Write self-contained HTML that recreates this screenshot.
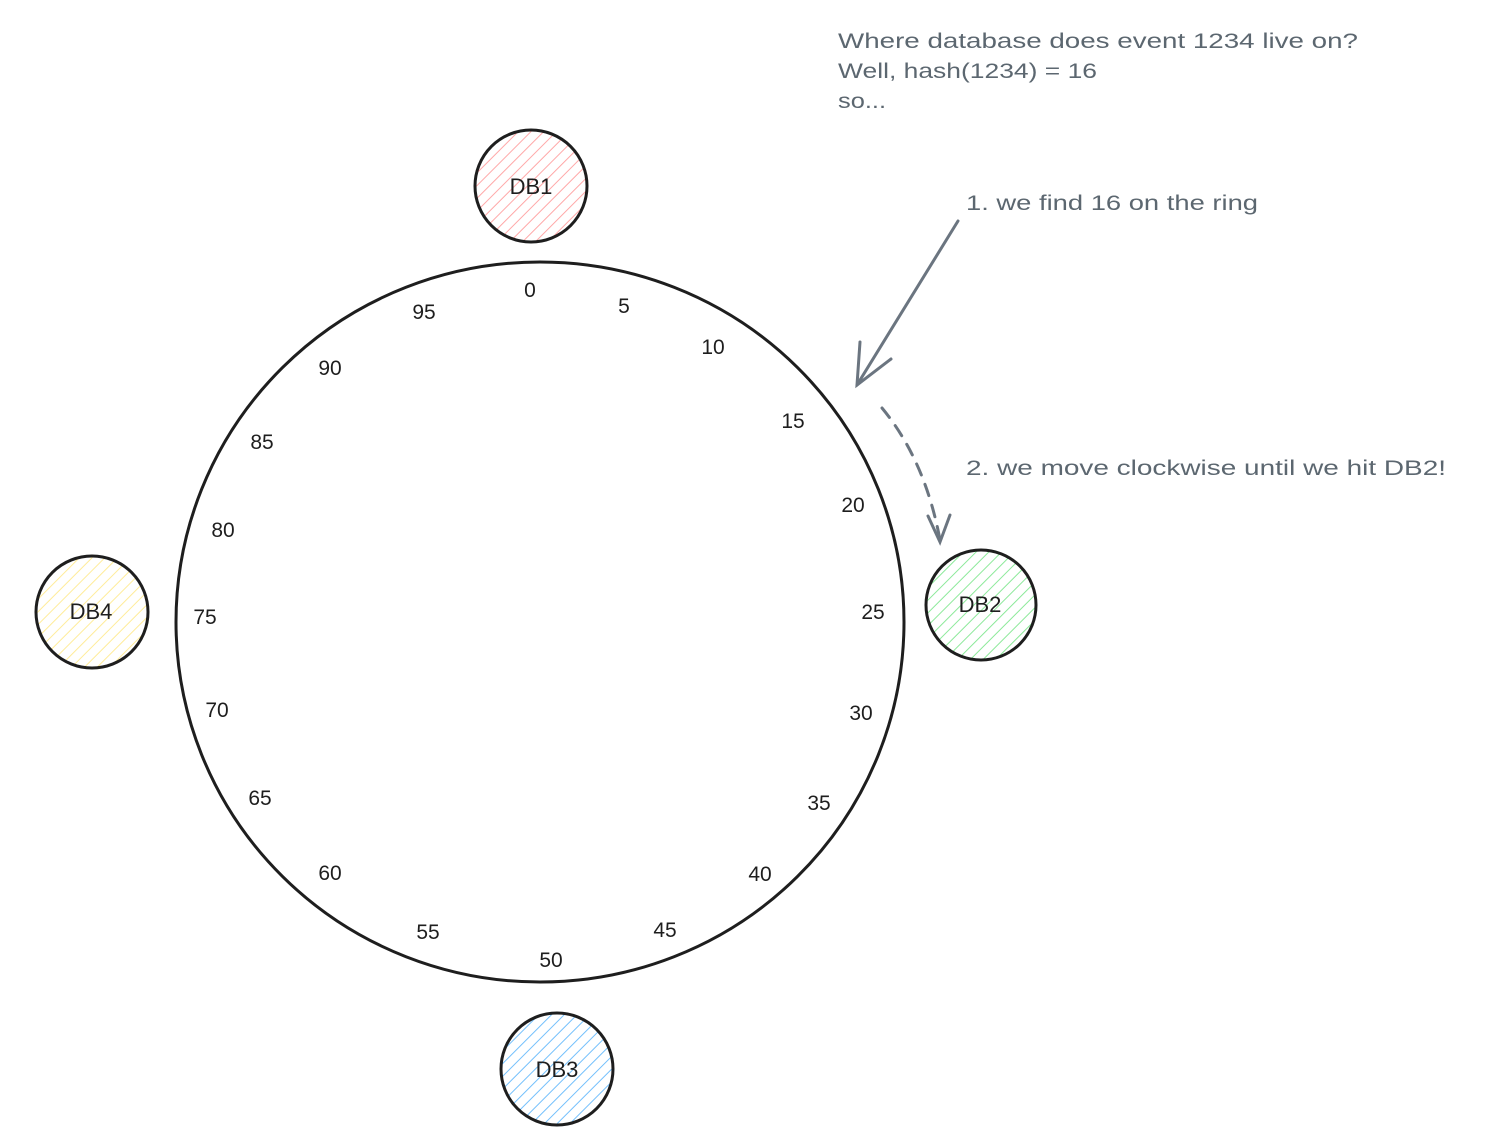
<!DOCTYPE html>
<html><head><meta charset="utf-8"><style>
html,body{margin:0;padding:0;background:#fff;}
svg{display:block;}
text{font-family:"Liberation Sans",sans-serif;}
</style></head><body>
<svg width="1494" height="1147" viewBox="0 0 1494 1147" xmlns="http://www.w3.org/2000/svg">
<defs>
<pattern id="hr" patternUnits="userSpaceOnUse" width="9" height="9" patternTransform="rotate(45)"><line x1="0" y1="0" x2="0" y2="9" stroke="#ffa8a8" stroke-width="2"/></pattern>
<pattern id="hg" patternUnits="userSpaceOnUse" width="9" height="9" patternTransform="rotate(45)"><line x1="0" y1="0" x2="0" y2="9" stroke="#8ce99a" stroke-width="2"/></pattern>
<pattern id="hb" patternUnits="userSpaceOnUse" width="9" height="9" patternTransform="rotate(45)"><line x1="0" y1="0" x2="0" y2="9" stroke="#74c0fc" stroke-width="2"/></pattern>
<pattern id="hy" patternUnits="userSpaceOnUse" width="9" height="9" patternTransform="rotate(45)"><line x1="0" y1="0" x2="0" y2="9" stroke="#ffec99" stroke-width="2"/></pattern>
</defs>
<ellipse cx="540" cy="622" rx="364" ry="360" fill="none" stroke="#1e1e1e" stroke-width="3"/>
<circle cx="531" cy="186" r="56" fill="url(#hr)" stroke="#1e1e1e" stroke-width="3"/>
<circle cx="981" cy="605" r="55" fill="url(#hg)" stroke="#1e1e1e" stroke-width="3"/>
<circle cx="557" cy="1069" r="56" fill="url(#hb)" stroke="#1e1e1e" stroke-width="3"/>
<circle cx="92" cy="612" r="56" fill="url(#hy)" stroke="#1e1e1e" stroke-width="3"/>
<g font-size="22" fill="#1e1e1e" text-anchor="middle">
<text x="531" y="194">DB1</text>
<text x="980" y="612">DB2</text>
<text x="557" y="1077">DB3</text>
<text x="91" y="619">DB4</text>
</g>
<g font-size="21" fill="#1e1e1e" text-anchor="middle">
<text x="530" y="297">0</text><text x="624" y="313">5</text><text x="713" y="354">10</text>
<text x="793" y="428">15</text><text x="853" y="512">20</text><text x="873" y="619">25</text>
<text x="861" y="720">30</text><text x="819" y="810">35</text><text x="760" y="881">40</text>
<text x="665" y="937">45</text><text x="551" y="967">50</text><text x="428" y="939">55</text>
<text x="330" y="880">60</text><text x="260" y="805">65</text><text x="217" y="717">70</text>
<text x="205" y="624">75</text><text x="223" y="537">80</text><text x="262" y="449">85</text>
<text x="330" y="375">90</text><text x="424" y="319">95</text>
</g>
<g font-size="21" fill="#5c6770">
<text x="838" y="48" textLength="520" lengthAdjust="spacingAndGlyphs">Where database does event 1234 live on?</text>
<text x="838" y="78" textLength="259" lengthAdjust="spacingAndGlyphs">Well, hash(1234) = 16</text>
<text x="838" y="108" textLength="48" lengthAdjust="spacingAndGlyphs">so...</text>
<text x="966" y="210" textLength="292" lengthAdjust="spacingAndGlyphs">1. we find 16 on the ring</text>
<text x="966" y="475" textLength="480" lengthAdjust="spacingAndGlyphs">2. we move clockwise until we hit DB2!</text>
</g>
<g stroke="#6b7580" stroke-width="3" fill="none" stroke-linecap="round">
<line x1="958" y1="221" x2="857" y2="385"/>
<polyline points="860,342 857,385 891,359"/>
<path d="M882 408 Q925 460 940 540" stroke-dasharray="12 10"/>
<polyline points="928,516 940,542 950,515"/>
</g>
</svg>
</body></html>
